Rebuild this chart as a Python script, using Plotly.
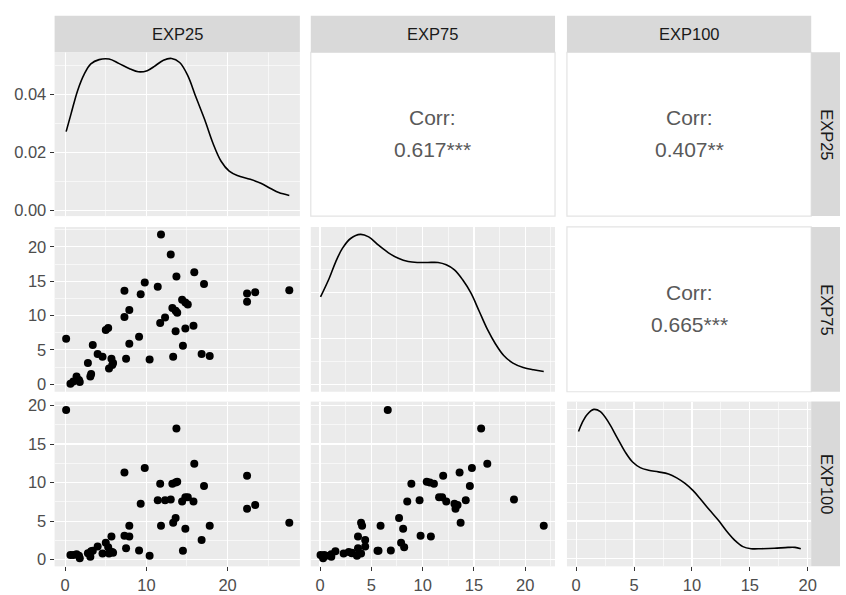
import plotly.graph_objects as go

# ---------------- data ----------------
EXP25 = [0.12, 0.65, 1.0, 1.4, 1.7, 1.8, 2.8, 3.1, 3.2, 3.4, 4.0, 4.6, 5.0, 5.3,
         5.4, 5.7, 5.8, 5.9, 7.3, 7.3, 7.5, 7.9, 7.9, 9.1, 9.3, 9.8, 10.4, 11.4,
         11.7, 11.8, 12.3, 13.0, 13.2, 13.3, 13.6, 13.6, 13.7, 13.8, 14.4, 14.5,
         14.8, 14.8, 15.1, 15.8, 15.9, 16.8, 17.1, 17.8, 22.4, 22.4, 23.4, 27.6]
EXP75 = [6.6, 0.05, 0.4, 1.1, 0.6, 0.3, 3.1, 1.1, 1.5, 5.7, 4.4, 4.0, 7.9, 8.2,
         2.3, 3.7, 2.8, 3.1, 13.6, 9.8, 3.7, 10.8, 5.9, 6.9, 13.1, 14.8, 3.6, 14.2,
         8.9, 21.8, 9.7, 18.9, 11.1, 4.0, 10.7, 7.7, 15.7, 10.4, 12.3, 5.6,
         8.1, 11.9, 11.6, 8.5, 16.3, 4.4, 14.6, 4.1, 13.2, 12.0, 13.4, 13.7]
EXP100 = [19.4, 0.6, 0.6, 0.7, 0.5, 0.2, 0.85, 0.4, 1.1, 1.15, 1.7, 0.8, 2.2, 1.6,
          0.8, 3.0, 1.0, 0.9, 11.3, 3.1, 1.5, 3.0, 4.4, 1.2, 7.25, 11.9, 0.5, 7.7,
          9.85, 4.4, 7.7, 7.8, 9.85, 4.8, 10.0, 5.4, 17.0, 10.1, 7.55, 1.15,
          4.0, 8.1, 8.1, 7.55, 12.45, 2.55, 9.55, 4.4, 6.6, 10.9, 7.1, 4.8]

# density curves as drawn on the diagonal
dens25_x = [0.12, 0.73, 1.54, 2.35, 3.16, 4.18, 5.4, 6.6, 8.0, 9.0, 10.1, 11.1, 12.1,
            13.1, 14.1, 15.1, 16.1, 17.2, 18.2, 19.2, 20.2, 21.2, 22.8, 24.1, 25.3,
            26.3, 27.6]
dens25_y = [0.0272, 0.0334, 0.0414, 0.0470, 0.0505, 0.0520, 0.0522, 0.0507, 0.0488,
            0.0478, 0.0482, 0.0499, 0.0518, 0.0524, 0.0510, 0.0465, 0.0391, 0.0312,
            0.0232, 0.0170, 0.0136, 0.0121, 0.0108, 0.0094, 0.0076, 0.0062, 0.0052]
dens75_x = [0.05, 0.9, 1.54, 2.18, 2.98, 3.94, 4.74, 5.7, 6.67, 7.63, 8.59, 9.55,
            10.5, 11.5, 12.3, 13.1, 13.9, 14.7, 15.5, 16.3, 17.1, 17.9, 18.8, 19.8,
            20.8, 21.8]
dens75_y = [0.0380, 0.0461, 0.0533, 0.0590, 0.0633, 0.0651, 0.0640, 0.0604, 0.0571,
            0.0547, 0.0533, 0.0529, 0.0529, 0.0529, 0.0519, 0.0497, 0.0454, 0.0397,
            0.0319, 0.0240, 0.0176, 0.0126, 0.0093, 0.0074, 0.0064, 0.0057]
dens100_x = [0.2, 0.52, 0.95, 1.52, 2.09, 2.81, 3.52, 4.24, 4.87, 5.53, 6.25, 7.1,
             7.97, 8.68, 9.4, 10.1, 10.8, 11.5, 12.3, 13.0, 13.7, 14.4, 15.1, 16.0,
             17.1, 18.3, 18.9, 19.4]
dens100_y = [0.0681, 0.0729, 0.0773, 0.0800, 0.0788, 0.0729, 0.0650, 0.0570, 0.0517,
             0.0487, 0.0473, 0.0464, 0.0453, 0.0432, 0.0402, 0.0363, 0.0313, 0.0260,
             0.0202, 0.0145, 0.0096, 0.0062, 0.0051, 0.0051, 0.0053, 0.0058, 0.0058,
             0.0051]

names = ["EXP25", "EXP75", "EXP100"]
corr_labels = {(0, 1): "0.617***", (0, 2): "0.407**", (1, 2): "0.665***"}

# ---------------- layout geometry ----------------
W, H = 846, 595
COLS = [(55, 302), (313, 559), (571, 817)]
ROWS = [(48, 214), (225, 392), (402, 569)]
def fx(p): return p / W
def fy(p): return 1 - p / H

FONT = "Liberation Sans, Arial, sans-serif"
TICKFONT = dict(family=FONT, size=16.5, color="#4D4D4D")

xranges = [[-1.3, 28.9], [-0.9, 22.9], [-0.8, 20.3]]
xdt = [(10, 5), (5, 2.5), (5, 2.5)]
yranges_scatter = {1: [-1.1, 22.9], 2: [-0.86, 20.5]}
diag_yranges = {0: [-0.0019, 0.0545], 1: [-0.0031, 0.0683], 2: [-0.0044, 0.0842]}

data = [EXP25, EXP75, EXP100]
dens = {0: (dens25_x, dens25_y), 1: (dens75_x, dens75_y), 2: (dens100_x, dens100_y)}

fig = go.Figure()
layout = dict(width=W, height=H, margin=dict(l=0, r=0, t=0, b=0),
              paper_bgcolor="white", plot_bgcolor="#EBEBEB", showlegend=False)
shapes, annotations = [], []

k = 0
for r in range(3):
    for c in range(3):
        if c > r:
            continue
        k += 1
        xa = "xaxis" if k == 1 else f"xaxis{k}"
        ya = "yaxis" if k == 1 else f"yaxis{k}"
        xr = "x" if k == 1 else f"x{k}"
        yr = "y" if k == 1 else f"y{k}"
        if r == c:
            dx, dy = dens[r]
            fig.add_trace(go.Scatter(x=dx, y=dy, mode="lines", xaxis=xr, yaxis=yr,
                                     line=dict(color="black", width=1.6, shape="spline"),
                                     hoverinfo="skip"))
            yrange = diag_yranges[r]
            ydt = (0.02, 0.01)
            yfmt = ".2f"
        else:
            fig.add_trace(go.Scatter(x=data[c], y=data[r], mode="markers", xaxis=xr, yaxis=yr,
                                     marker=dict(color="black", size=8, line=dict(width=0))))
            yrange = yranges_scatter[r]
            ydt = (5, 2.5)
            yfmt = "d"
        bottom = (r == 2)
        left = (c == 0)
        layout[xa] = dict(domain=[fx(COLS[c][0]), fx(COLS[c][1])], anchor=yr,
                          range=xranges[c], dtick=xdt[c][0], tick0=0,
                          showgrid=True, gridcolor="white", gridwidth=1.2,
                          minor=dict(dtick=xdt[c][1], tick0=0, showgrid=True,
                                     gridcolor="white", gridwidth=0.6),
                          zeroline=False, showline=False,
                          showticklabels=bottom, ticks="outside" if bottom else "",
                          ticklen=4, tickcolor="#333333", tickwidth=1,
                          tickfont=TICKFONT, fixedrange=True)
        layout[ya] = dict(domain=[fy(ROWS[r][1]), fy(ROWS[r][0])], anchor=xr,
                          range=yrange, dtick=ydt[0], tick0=0,
                          showgrid=True, gridcolor="white", gridwidth=1.2,
                          minor=dict(dtick=ydt[1], tick0=0, showgrid=True,
                                     gridcolor="white", gridwidth=0.6),
                          zeroline=False, showline=False,
                          showticklabels=left, ticks="outside" if left else "",
                          ticklen=4, tickcolor="#333333", tickwidth=1,
                          tickformat=yfmt, tickfont=TICKFONT, fixedrange=True)

# upper panels with correlation text
for (r, c), lab in corr_labels.items():
    x0, x1 = COLS[c]
    y0, y1 = ROWS[r]
    shapes.append(dict(type="rect", xref="paper", yref="paper",
                       x0=fx(x0), x1=fx(x1), y0=fy(y1), y1=fy(y0),
                       fillcolor="white", line=dict(color="#E3E3E3", width=1.2), layer="below"))
    cx = fx((x0 + x1) / 2)
    cy = (y0 + y1) / 2
    annotations.append(dict(text="Corr:", x=cx, y=fy(cy - 17), xref="paper", yref="paper",
                            showarrow=False, xanchor="center", yanchor="middle",
                            font=dict(family=FONT, size=21, color="#595959")))
    annotations.append(dict(text=lab, x=cx, y=fy(cy + 15), xref="paper", yref="paper",
                            showarrow=False, xanchor="center", yanchor="middle",
                            font=dict(family=FONT, size=21, color="#595959")))

# strips
for c in range(3):
    x0, x1 = COLS[c]
    shapes.append(dict(type="rect", xref="paper", yref="paper",
                       x0=fx(x0), x1=fx(x1), y0=fy(48), y1=fy(11),
                       fillcolor="#D9D9D9", line=dict(width=0)))
    annotations.append(dict(text=names[c], x=fx((x0 + x1) / 2), y=fy(29.5),
                            xref="paper", yref="paper", showarrow=False,
                            xanchor="center", yanchor="middle",
                            font=dict(family=FONT, size=16.5, color="#1A1A1A")))
for r in range(3):
    y0, y1 = ROWS[r]
    shapes.append(dict(type="rect", xref="paper", yref="paper",
                       x0=fx(817), x1=1.0, y0=fy(y1), y1=fy(y0),
                       fillcolor="#D9D9D9", line=dict(width=0)))
    annotations.append(dict(text=names[r], x=fx(833), y=fy((y0 + y1) / 2),
                            xref="paper", yref="paper", showarrow=False, textangle=90,
                            xanchor="center", yanchor="middle",
                            font=dict(family=FONT, size=16.5, color="#1A1A1A")))

layout["shapes"] = shapes
layout["annotations"] = annotations
fig.update_layout(**layout)
fig.write_html("out.html",
               config={"displayModeBar": False, "staticPlot": True},
               post_script="document.body.style.margin='0';document.body.style.padding='0';"
                           "document.body.style.overflow='hidden';")
